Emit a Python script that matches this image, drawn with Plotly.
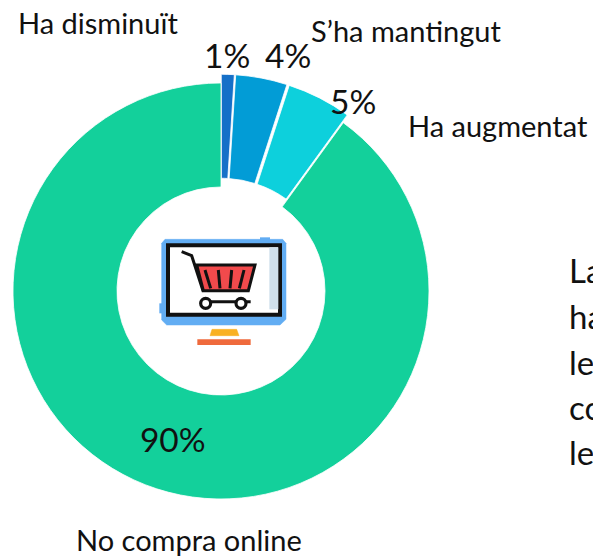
import plotly.graph_objects as go

W, H = 593, 557

categories = ["Ha disminuït", "S’ha mantingut", "Ha augmentat", "No compra online"]
values = [1, 4, 5, 90]
colors = ["#1570c8", "#029cd6", "#0dd0dc", "#13d09b"]
pulls = [0.042, 0.042, 0.042, 0]
side_text = ["La", "ha", "le", "co", "le"]

FONT = "Lato, Carlito, Calibri, sans-serif"


def px(x):
    return x / W


def py(y):
    return 1 - y / H


def zx(v):
    return 140 + v / 3


def zy(v):
    return 220 + v / 3


def poly(points, close=True):
    p = " L ".join(f"{px(zx(a)):.5f},{py(zy(b)):.5f}" for a, b in points)
    return "M " + p + (" Z" if close else "")


def rrect(x0, y0, x1, y1, fill, line=None, lw=0):
    return dict(type="rect", xref="paper", yref="paper",
                x0=px(zx(x0)), x1=px(zx(x1)), y0=py(zy(y1)), y1=py(zy(y0)),
                fillcolor=fill, line=dict(color=line or fill, width=lw), layer="above")


def path(points, fill="rgba(0,0,0,0)", line="#111111", lw=3, close=True):
    return dict(type="path", xref="paper", yref="paper", path=poly(points, close),
                fillcolor=fill, line=dict(color=line, width=lw), layer="above")


def circle(cx, cy, r, fill, line, lw):
    return dict(type="circle", xref="paper", yref="paper",
                x0=px(zx(cx - r)), x1=px(zx(cx + r)),
                y0=py(zy(cy + r)), y1=py(zy(cy - r)),
                fillcolor=fill, line=dict(color=line, width=lw), layer="above")


shapes = [
    rrect(360, 52, 390, 65, "#62adf3"),
    rrect(58, 250, 75, 280, "#62adf3"),
    path([(65, 70), (75, 58), (428, 58), (438, 70), (438, 298), (420, 315), (80, 315), (65, 300)],
         fill="#62adf3", line="#62adf3", lw=0.5),
    rrect(84, 76, 420, 284, "#ffffff", "#111111", 4),
    rrect(388, 82, 415, 268, "#cfe0ec"),
    path([(125, 95), (155, 107), (190, 215)], close=False, lw=3),
    path([(170, 135), (345, 135), (325, 212), (190, 212)], fill="#f24a4c", lw=3),
    path([(195, 150), (212, 205)], close=False),
    path([(235, 150), (240, 205)], close=False),
    path([(275, 150), (270, 205)], close=False),
    path([(312, 150), (298, 205)], close=False),
    path([(197, 245), (332, 245)], close=False),
    circle(197, 250, 15, "#ffffff", "#111111", 3.2),
    circle(303, 250, 15, "#ffffff", "#111111", 3.2),
    path([(216, 328), (290, 328), (297, 347), (210, 347)], fill="#f9b122", line="#f9b122", lw=0.5),
    rrect(172, 358, 332, 375, "#ef6a3c"),
]


def ann(text, x, y, size, anchor="center"):
    return dict(text=text, xref="paper", yref="paper", x=px(x), y=py(y),
                xanchor=anchor, yanchor="middle", showarrow=False,
                font=dict(family=FONT, size=size, color="#111111"))


annotations = [
    ann(categories[0], 98, 23, 29),
    ann(categories[1], 406, 31, 29),
    ann(categories[2], 498, 125, 29),
    ann(categories[3], 189, 539, 29),
    ann(f"{values[0]}%", 227, 55, 33.5),
    ann(f"{values[1]}%", 288, 55, 33.5),
    ann(f"{values[2]}%", 353, 101, 33.5),
]
for label, y in zip(side_text, [270, 316, 362, 407, 452]):
    annotations.append(ann(label, 567, y, 33, "left"))

fig = go.Figure(go.Pie(
    labels=categories, values=values, sort=False, direction="clockwise", rotation=0,
    hole=0.5, pull=pulls, marker=dict(colors=colors, line=dict(color="#ffffff", width=0.8)),
    text=["", "", "", f"{values[3]}%"], textinfo="text", textposition="inside",
    insidetextorientation="horizontal", insidetextfont=dict(family=FONT, size=33.5, color="#111111"),
    showlegend=False, hoverinfo="label+percent",
    domain=dict(x=[px(4.25), px(437.75)], y=[py(507.75), py(74.25)]),
))
fig.update_layout(width=W, height=H, margin=dict(l=0, r=0, t=0, b=0),
                  paper_bgcolor="#ffffff", plot_bgcolor="#ffffff",
                  shapes=shapes, annotations=annotations)
fig.write_html("out.html", config={"displayModeBar": False},
               post_script="document.body.style.margin='0';document.documentElement.style.overflow='hidden';")
